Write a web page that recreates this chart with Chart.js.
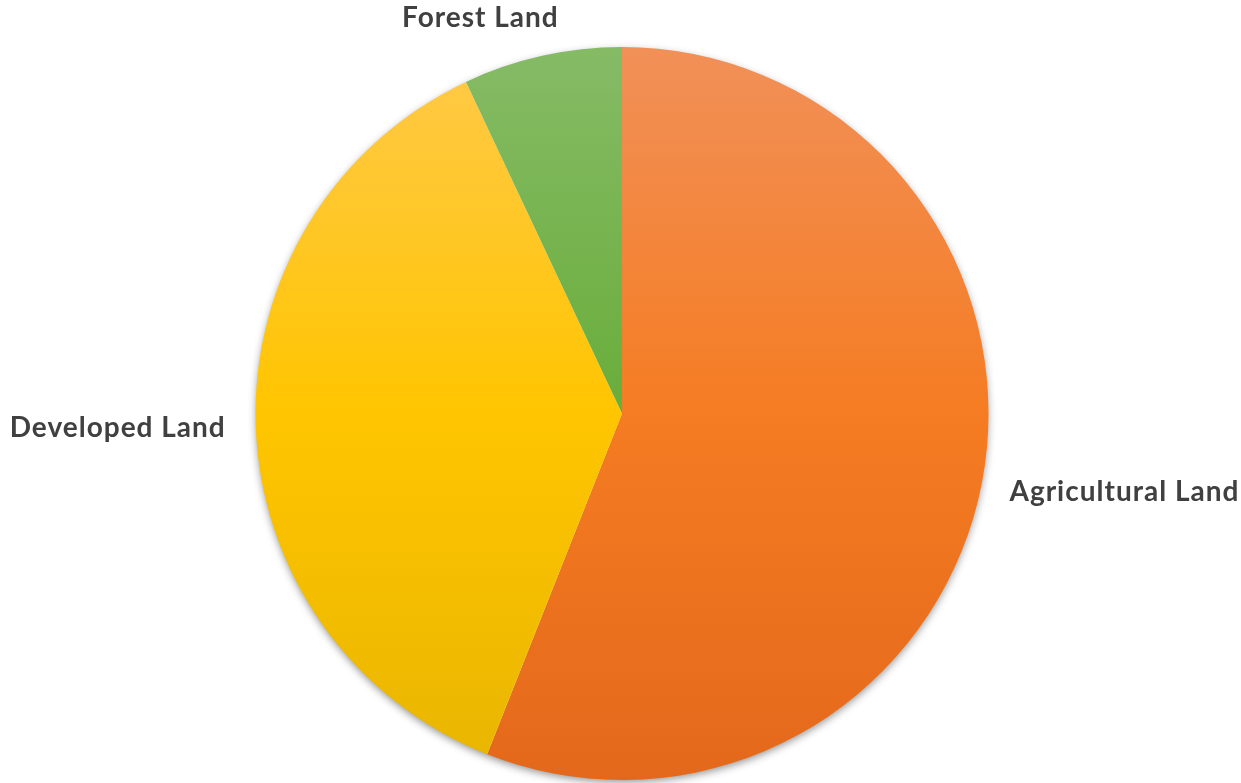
<!DOCTYPE html>
<html>
<head>
<meta charset="utf-8">
<script src="https://cdn.jsdelivr.net/npm/chart.js@4.4.1/dist/chart.umd.min.js"></script>
<style>
  html, body { margin: 0; padding: 0; background: #ffffff; }
  #wrap { width: 1241px; height: 783px; position: relative; }
</style>
</head>
<body>
<div id="wrap"><canvas id="c" width="1241" height="783"></canvas></div>
<script>
const categories = ["Agricultural Land", "Developed Land", "Forest Land"];
const shares = [56, 37, 7];
const topColors = ["#F19058", "#FFC94A", "#86BB66"];
const midColors = ["#F57C22", "#FFC500", "#69AD3A"];
const bottomColors = ["#E4681B", "#E8B500", "#5A9A2C"];

function sliceFill(ctx) {
  const chart = ctx.chart;
  const area = chart.chartArea;
  const i = ctx.dataIndex;
  if (!area) return midColors[i];
  const cy = (area.top + area.bottom) / 2;
  const r = Math.min(area.right - area.left, area.bottom - area.top) / 2;
  const g = chart.ctx.createLinearGradient(0, cy - r, 0, cy + r);
  g.addColorStop(0, topColors[i]);
  g.addColorStop(0.5, midColors[i]);
  g.addColorStop(1, bottomColors[i]);
  return g;
}

const shadowPlugin = {
  id: 'pieShadow',
  beforeDatasetsDraw(chart) {
    const arc = chart.getDatasetMeta(0).data[0];
    if (!arc) return;
    const c = chart.ctx;
    c.save();
    c.shadowColor = 'rgba(0,0,0,0.45)';
    c.shadowBlur = 8;
    c.shadowOffsetY = 3;
    c.beginPath();
    c.arc(arc.x, arc.y, arc.outerRadius - 1, 0, Math.PI * 2);
    c.fillStyle = '#ffffff';
    c.fill();
    c.restore();
  }
};

const labelPlugin = {
  id: 'outLabels',
  afterDatasetsDraw(chart, args, opts) {
    const c = chart.ctx;
    const meta = chart.getDatasetMeta(0);
    c.save();
    c.font = opts.font;
    if ('letterSpacing' in c) c.letterSpacing = opts.letterSpacing;
    c.fillStyle = opts.color;
    c.textBaseline = 'middle';
    c.textAlign = 'left';
    meta.data.forEach((arc, i) => {
      const mid = (arc.startAngle + arc.endAngle) / 2;
      const dx = Math.cos(mid), dy = Math.sin(mid);
      const d = arc.outerRadius + opts.offset;
      const ax = arc.x + dx * d, ay = arc.y + dy * d;
      const text = chart.data.labels[i];
      const w = c.measureText(text).width;
      const h = opts.lineHeight;
      const nudge = (opts.nudge && opts.nudge[i]) || [0, 0];
      const cx = ax + dx * w / 2 + nudge[0];
      const cy = ay + dy * h / 2 + nudge[1];
      c.fillText(text, cx - w / 2, cy);
    });
    c.restore();
  }
};

new Chart(document.getElementById('c'), {
  type: 'pie',
  data: {
    labels: categories,
    datasets: [{
      data: shares,
      backgroundColor: sliceFill,
      borderWidth: 0,
      hoverOffset: 0
    }]
  },
  options: {
    responsive: false,
    animation: false,
    events: [],
    layout: { padding: { top: 47, bottom: 3, left: 3, right: 0 } },
    plugins: {
      legend: { display: false },
      tooltip: { enabled: false },
      outLabels: {
        font: 'bold 28px Lato',
        letterSpacing: '1px',
        color: '#404040',
        offset: 30,
        lineHeight: 24,
        nudge: { 0: [0, 2], 1: [0, 2], 2: [-38, 3] }
      }
    }
  },
  plugins: [shadowPlugin, labelPlugin]
});
</script>
</body>
</html>
